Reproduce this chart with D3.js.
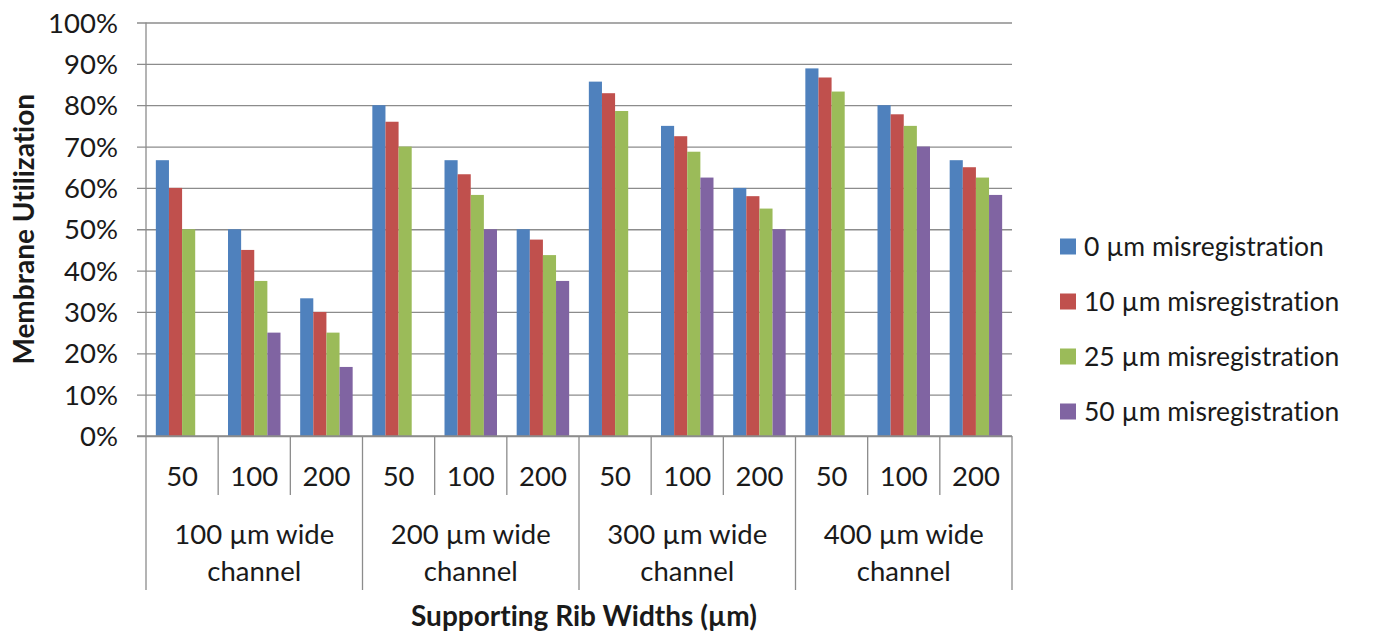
<!DOCTYPE html>
<html>
<head>
<meta charset="utf-8">
<script src="https://cdn.jsdelivr.net/npm/d3@7"></script>
<style>
  html, body { margin: 0; padding: 0; background: #fff; }
  svg { display: block; }
  text { font-family: Lato, "Open Sans", sans-serif; fill: #1a1a1a; font-variant-ligatures: none; font-feature-settings: "liga" 0, "clig" 0; }
</style>
</head>
<body>
<svg id="chart" width="1375" height="637"></svg>
<script>
// ---- data ----
const channelGroups = ["100 µm wide channel", "200 µm wide channel", "300 µm wide channel", "400 µm wide channel"];
const ribWidths = ["50", "100", "200"];
const seriesNames = ["0 µm misregistration", "10 µm misregistration", "25 µm misregistration", "50 µm misregistration"];
const seriesColors = ["#4F81BD", "#C0504D", "#9BBB59", "#8064A2"];
// values per series in order: group1 (50,100,200), group2 (...), ...
const mis0  = [0.667, 0.500, 0.333, 0.800, 0.667, 0.500, 0.857, 0.750, 0.600, 0.889, 0.800, 0.667];
const mis10 = [0.600, 0.450, 0.300, 0.760, 0.633, 0.475, 0.829, 0.725, 0.580, 0.867, 0.778, 0.650];
const mis25 = [0.500, 0.375, 0.250, 0.700, 0.583, 0.4375, 0.786, 0.6875, 0.550, 0.833, 0.750, 0.625];
const mis50 = [null, 0.250, 0.167, null, 0.500, 0.375, null, 0.625, 0.500, null, 0.700, 0.583];
const seriesValues = [mis0, mis10, mis25, mis50];
const yTicks = [0, 0.1, 0.2, 0.3, 0.4, 0.5, 0.6, 0.7, 0.8, 0.9, 1.0];
const yTitle = "Membrane Utilization";
const xTitle = "Supporting Rib Widths (µm)";

// ---- layout ----
const svg = d3.select("#chart");
const pLeft = 146, pRight = 1012, pTop = 22.5, pBottom = 436;
const gridColor = "#8c8c8c";
const fs = 27.5, titleFs = 28, legendFs = 26.5;

const categories = [];
channelGroups.forEach((g, gi) => ribWidths.forEach((r, ri) => categories.push({ id: gi + "-" + ri, group: gi, rib: r })));

const x0 = d3.scaleBand().domain(categories.map(d => d.id)).range([pLeft, pRight]).paddingInner(0).paddingOuter(0);
const x1 = d3.scaleBand().domain(d3.range(seriesNames.length)).range([0, x0.bandwidth()]).paddingInner(0).paddingOuter(0.75);
const y = d3.scaleLinear().domain([0, 1]).range([pBottom, pTop]);

// gridlines + y axis
const yAxis = d3.axisLeft(y).tickValues(yTicks).tickFormat(d3.format(".0%")).tickSize(-(pRight - pLeft)).tickPadding(0);
const gy = svg.append("g").attr("transform", `translate(${pLeft},0)`).call(yAxis);
gy.select(".domain").remove();
gy.selectAll(".tick line").attr("stroke", gridColor).attr("stroke-width", 1.3).attr("x1", -9).attr("x2", pRight - pLeft);
gy.selectAll(".tick text").attr("x", -28).attr("font-size", fs).attr("fill", "#1a1a1a").attr("dy", "0.35em")
  .attr("font-family", "Lato, 'Open Sans', sans-serif");

// bars
const barG = svg.append("g");
seriesValues.forEach((vals, si) => {
  barG.selectAll(null)
    .data(categories.map((c, i) => ({ c, v: vals[i] })).filter(d => d.v != null))
    .enter().append("rect")
    .attr("x", d => x0(d.c.id) + x1(si))
    .attr("width", x1.bandwidth())
    .attr("y", d => y(d.v))
    .attr("height", d => y(0) - y(d.v))
    .attr("fill", seriesColors[si]);
});

// y axis line
svg.append("line").attr("x1", pLeft).attr("x2", pLeft).attr("y1", pTop).attr("y2", pBottom).attr("stroke", gridColor).attr("stroke-width", 1.3);
// x axis line
svg.append("line").attr("x1", pLeft - 9).attr("x2", pRight).attr("y1", pBottom).attr("y2", pBottom).attr("stroke", gridColor).attr("stroke-width", 1.3);

// category separators
const step = x0.step();
const groupBottom = 590, catBottom = 495;
for (let i = 0; i <= categories.length; i++) {
  const xx = pLeft + i * step;
  const isGroup = i % ribWidths.length === 0;
  svg.append("line").attr("x1", xx).attr("x2", xx).attr("y1", pBottom).attr("y2", isGroup ? groupBottom : catBottom)
    .attr("stroke", gridColor).attr("stroke-width", 1.3);
}
// rib labels
svg.append("g").selectAll("text").data(categories).enter().append("text")
  .attr("x", d => x0(d.id) + x0.bandwidth() / 2)
  .attr("y", 476).attr("dy", "0.35em")
  .attr("text-anchor", "middle").attr("font-size", fs)
  .text(d => d.rib);
// group labels (two lines)
channelGroups.forEach((g, gi) => {
  const cx = pLeft + (gi * ribWidths.length + ribWidths.length / 2) * step;
  const idx = g.indexOf(" channel");
  const t = svg.append("text").attr("text-anchor", "middle").attr("font-size", fs);
  t.append("tspan").attr("x", cx).attr("y", 534).attr("dy", "0.35em").text(g.slice(0, idx));
  t.append("tspan").attr("x", cx).attr("y", 571).attr("dy", "0.35em").text(g.slice(idx + 1));
});

// axis titles
svg.append("text").attr("x", 584).attr("y", 616).attr("dy", "0.35em")
  .attr("text-anchor", "middle").attr("font-size", titleFs).attr("font-weight", "bold").text(xTitle);
svg.append("text").attr("transform", `translate(24,${(pTop + pBottom) / 2}) rotate(-90)`).attr("dy", "0.35em")
  .attr("text-anchor", "middle").attr("font-size", titleFs).attr("font-weight", "bold").text(yTitle);

// legend
const lg = svg.append("g");
seriesNames.forEach((name, i) => {
  const cy = 246.5 + i * 55;
  lg.append("rect").attr("x", 1060).attr("y", cy - 8).attr("width", 16).attr("height", 16).attr("fill", seriesColors[i]);
  lg.append("text").attr("x", 1084).attr("y", cy).attr("dy", "0.35em").attr("font-size", legendFs).text(name);
});
</script>
</body>
</html>
